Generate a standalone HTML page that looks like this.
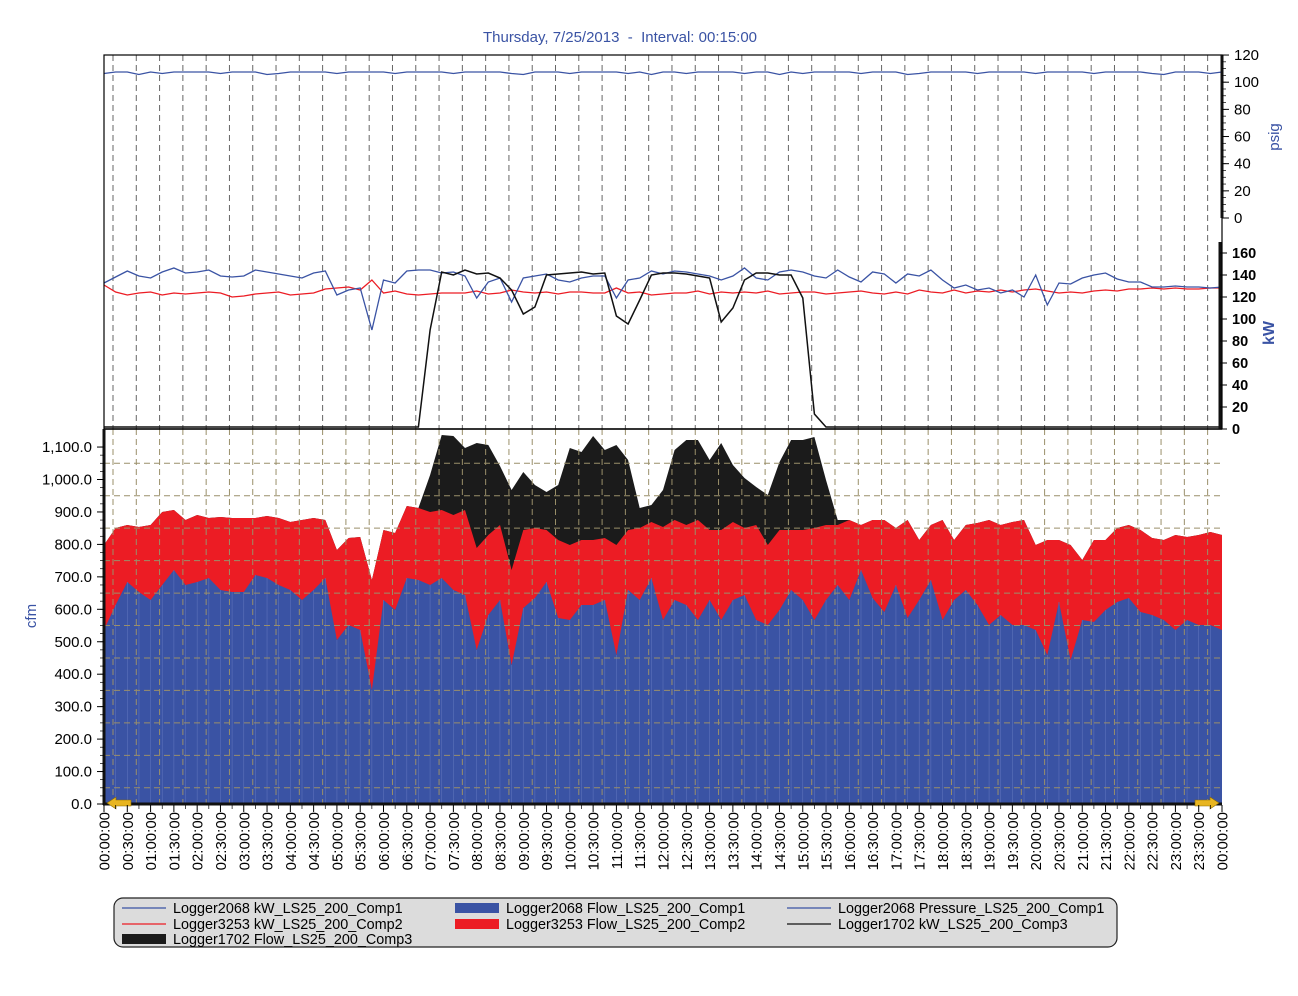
<!DOCTYPE html>
<html><head><meta charset="utf-8"><style>
body{margin:0;background:#fff;}
svg{display:block;font-family:"Liberation Sans",sans-serif;}
</style></head><body>
<svg id="s" width="1298" height="996" xmlns="http://www.w3.org/2000/svg"></svg>
<script>
const s=document.getElementById('s');let h='';
const X=i=>104+i*1118/96;
const blue=[630,605,582,592,600,585,570,585,582,578,590,592,592,575,578,585,590,600,590,578,640,625,630,690,600,610,578,580,585,578,590,595,650,615,600,665,608,598,582,618,620,605,605,600,655,590,600,578,620,600,605,620,600,620,600,595,620,625,610,590,600,620,600,585,600,570,598,612,585,618,600,580,620,600,590,605,625,615,625,625,630,655,602,660,620,622,610,602,598,612,615,620,630,620,625,625,630];
const red=[545,528,525,527,525,512,510,520,515,518,517,518,518,518,516,518,522,520,518,520,550,538,537,580,530,533,506,508,512,510,515,510,548,535,525,570,530,528,530,540,545,540,540,538,545,530,528,522,527,520,525,520,530,530,522,528,525,545,530,530,530,528,525,525,520,525,520,520,528,520,540,525,520,540,525,523,520,525,522,520,545,540,540,545,560,540,540,528,525,530,538,540,535,537,535,532,535];
const blk=red.slice();
const bp={27:515,28:475,29:435,30:436,31:448,32:443,33:445,34:466,35:490,36:472,37:485,38:492,39:485,40:448,41:452,42:436,43:450,44:445,45:460,46:508,47:505,48:490,49:450,50:440,51:440,52:460,53:443,54:465,55:478,56:487,57:495,58:462,59:440,60:440,61:437,62:480,63:520,64:530};
for(const k in bp)blk[k]=Math.min(bp[k],red[k]);
const poly=(arr,col)=>{let p=`104,804 `;arr.forEach((y,i)=>p+=`${X(i).toFixed(1)},${y} `);p+=`1222,804`;h+=`<polygon points="${p}" fill="${col}"/>`;};
const line=(arr,col,w)=>{h+=`<polyline fill="none" stroke="${col}" stroke-width="${w}" points="${arr.map((y,i)=>X(i).toFixed(1)+','+y).join(' ')}"/>`;};
poly(blk,'#1b1b1b');poly(red,'#ec1c24');poly(blue,'#3a53a4');
for(let i=1;i<96;i++)h+=`<line x1="${X(i)}" y1="${blue[i]}" x2="${X(i)}" y2="804" stroke="#5d72bb" stroke-width="0.6"/>`;
for(let v=50;v<1150;v+=100){const y=804-v*0.3245;h+=`<line x1="104" y1="${y}" x2="1222" y2="${y}" stroke="#9a8f6a" stroke-dasharray="6,4" stroke-width="1"/>`;}
for(let k=0;k<48;k++){const x=113+k*23.29;h+=`<line x1="${x}" y1="55" x2="${x}" y2="429" stroke="#666" stroke-dasharray="6,4" stroke-width="1"/><line x1="${x}" y1="429" x2="${x}" y2="804" stroke="#9a8f6a" stroke-dasharray="6,4" stroke-width="1"/>`;}
const kb=[283,277,271,276,278,272,268,273,272,270,276,277,276,270,272,274,276,278,273,271,295,290,288,330,280,283,271,270,270,273,272,276,298,282,278,302,278,276,274,280,282,278,276,276,298,280,278,271,274,271,272,274,276,280,276,268,278,280,272,270,272,276,278,270,277,282,272,274,283,274,276,270,280,288,285,290,288,293,290,297,275,305,283,284,278,275,273,279,282,282,287,287,286,287,287,288,287];
const kr=[285,292,295,293,292,295,293,294,293,292,293,297,296,294,293,292,295,294,293,289,288,287,290,280,293,291,294,295,294,293,293,293,291,294,293,290,292,293,292,294,292,292,293,293,288,293,292,295,294,293,293,291,294,292,293,292,293,291,294,293,292,292,294,293,292,291,293,294,292,294,290,292,293,290,293,291,292,290,292,290,289,291,293,292,293,291,290,291,289,289,288,289,288,289,289,288,288];
const kk=Array(97).fill(427);
Object.assign(kk,{28:330,29:272,30:275,31:270,32:274,33:273,34:278,35:290,36:314,37:307,38:275,39:274,40:273,41:272,42:274,43:273,44:316,45:324,46:300,47:275,48:273,49:273,50:274,51:276,52:278,53:322,54:308,55:280,56:273,57:273,58:275,59:275,60:298,61:414,62:427});
line(kr,'#ec1c24',1.3);line(kb,'#3a53a4',1.3);line(kk,'#111',1.5);
line(Array.from({length:97},(_,i)=>72+((i*7)%5==0?1.5:(i%11==3?2.5:0))),'#3a53a4',1.3);
h+=`<rect x="104" y="55" width="1118" height="374" fill="none" stroke="#000" stroke-width="1.2"/>`;
h+=`<line x1="104" y1="429" x2="1222" y2="429" stroke="#000" stroke-width="1.5"/>`;
h+=`<line x1="104" y1="429" x2="104" y2="805" stroke="#111" stroke-width="3"/><line x1="103" y1="804" x2="1222" y2="804" stroke="#111" stroke-width="3"/>`;
h+=`<line x1="1222" y1="55" x2="1222" y2="218" stroke="#111" stroke-width="3"/><line x1="1220" y1="242" x2="1220" y2="429" stroke="#111" stroke-width="3"/>`;
h+=`<polygon points="107,803 116,797 116,800 131,800 131,806 116,806 116,809" fill="#e8b520" stroke="#8a6a00" stroke-width="0.6"/>`;
h+=`<polygon points="1219,803 1210,797 1210,800 1195,800 1195,806 1210,806 1210,809" fill="#e8b520" stroke="#8a6a00" stroke-width="0.6"/>`;
for(let v=0;v<=120;v+=20){const y=218-v*1.358;h+=`<line x1="1222" y1="${y}" x2="1229" y2="${y}" stroke="#000"/><text x="1234" y="${y+5}" font-size="15">${v}</text>`;}
for(let v=0;v<=120;v+=5){const y=218-v*1.358;h+=`<line x1="1222" y1="${y}" x2="1226" y2="${y}" stroke="#000" stroke-width="0.7"/>`;}
for(let v=0;v<=160;v+=20){const y=429-v*1.1;h+=`<line x1="1220" y1="${y}" x2="1227" y2="${y}" stroke="#000"/><text x="1232" y="${y+5}" font-size="14.5" font-weight="bold">${v}</text>`;}
for(let v=0;v<=1100;v+=100){const y=804-v*0.3245;h+=`<line x1="97" y1="${y}" x2="104" y2="${y}" stroke="#000"/><text x="92" y="${y+5}" font-size="15" text-anchor="end">${v.toLocaleString('en-US')}.0</text>`;}
for(let v=0;v<=1100;v+=25){const y=804-v*0.3245;h+=`<line x1="100" y1="${y}" x2="104" y2="${y}" stroke="#000" stroke-width="0.7"/>`;}
h+=`<text transform="translate(1279,137) rotate(-90)" font-size="15" fill="#3a53a4" text-anchor="middle">psig</text>`;
h+=`<text transform="translate(1274,333) rotate(-90)" font-size="16" fill="#3a53a4" text-anchor="middle" font-weight="bold">kW</text>`;
h+=`<text transform="translate(36,616) rotate(-90)" font-size="15" fill="#3a53a4" text-anchor="middle">cfm</text>`;
h+=`<text x="620" y="42" font-size="15" fill="#3a53a4" text-anchor="middle" xml:space="preserve">Thursday, 7/25/2013  -  Interval: 00:15:00</text>`;
for(let k=0;k<=48;k++){const x=104+k*1118/48;const hh=String(Math.floor(k/2)%24).padStart(2,'0');const lab=(k==48?'00':hh)+':'+(k%2?'30':'00')+':00';
h+=`<line x1="${x}" y1="805" x2="${x}" y2="812" stroke="#000"/><text transform="translate(${x+5.5},812) rotate(-90)" font-size="15" text-anchor="end">${lab}</text>`;
if(k<48)h+=`<line x1="${x+11.65}" y1="805" x2="${x+11.65}" y2="809" stroke="#000" stroke-width="0.7"/>`;}
h+=`<rect x="114" y="898" width="1003" height="49" rx="9" fill="#dcdcdc" stroke="#222" stroke-width="1.2"/>`;
const L=[[122,913,'l','#3a53a4','Logger2068 kW_LS25_200_Comp1'],[122,929,'l','#ec1c24','Logger3253 kW_LS25_200_Comp2'],[122,944,'b','#1b1b1b','Logger1702 Flow_LS25_200_Comp3'],[455,913,'b','#3a53a4','Logger2068 Flow_LS25_200_Comp1'],[455,929,'b','#ec1c24','Logger3253 Flow_LS25_200_Comp2'],[787,913,'l','#3a53a4','Logger2068 Pressure_LS25_200_Comp1'],[787,929,'l','#111','Logger1702 kW_LS25_200_Comp3']];
for(const [x,y,t,c,txt] of L){if(t=='l')h+=`<line x1="${x}" y1="${y-5}" x2="${x+44}" y2="${y-5}" stroke="${c}" stroke-width="1.2"/>`;else h+=`<rect x="${x}" y="${y-10}" width="44" height="10" fill="${c}"/>`;h+=`<text x="${x+51}" y="${y}" font-size="14.4">${txt}</text>`;}
s.innerHTML=h;
</script>
</body></html>
